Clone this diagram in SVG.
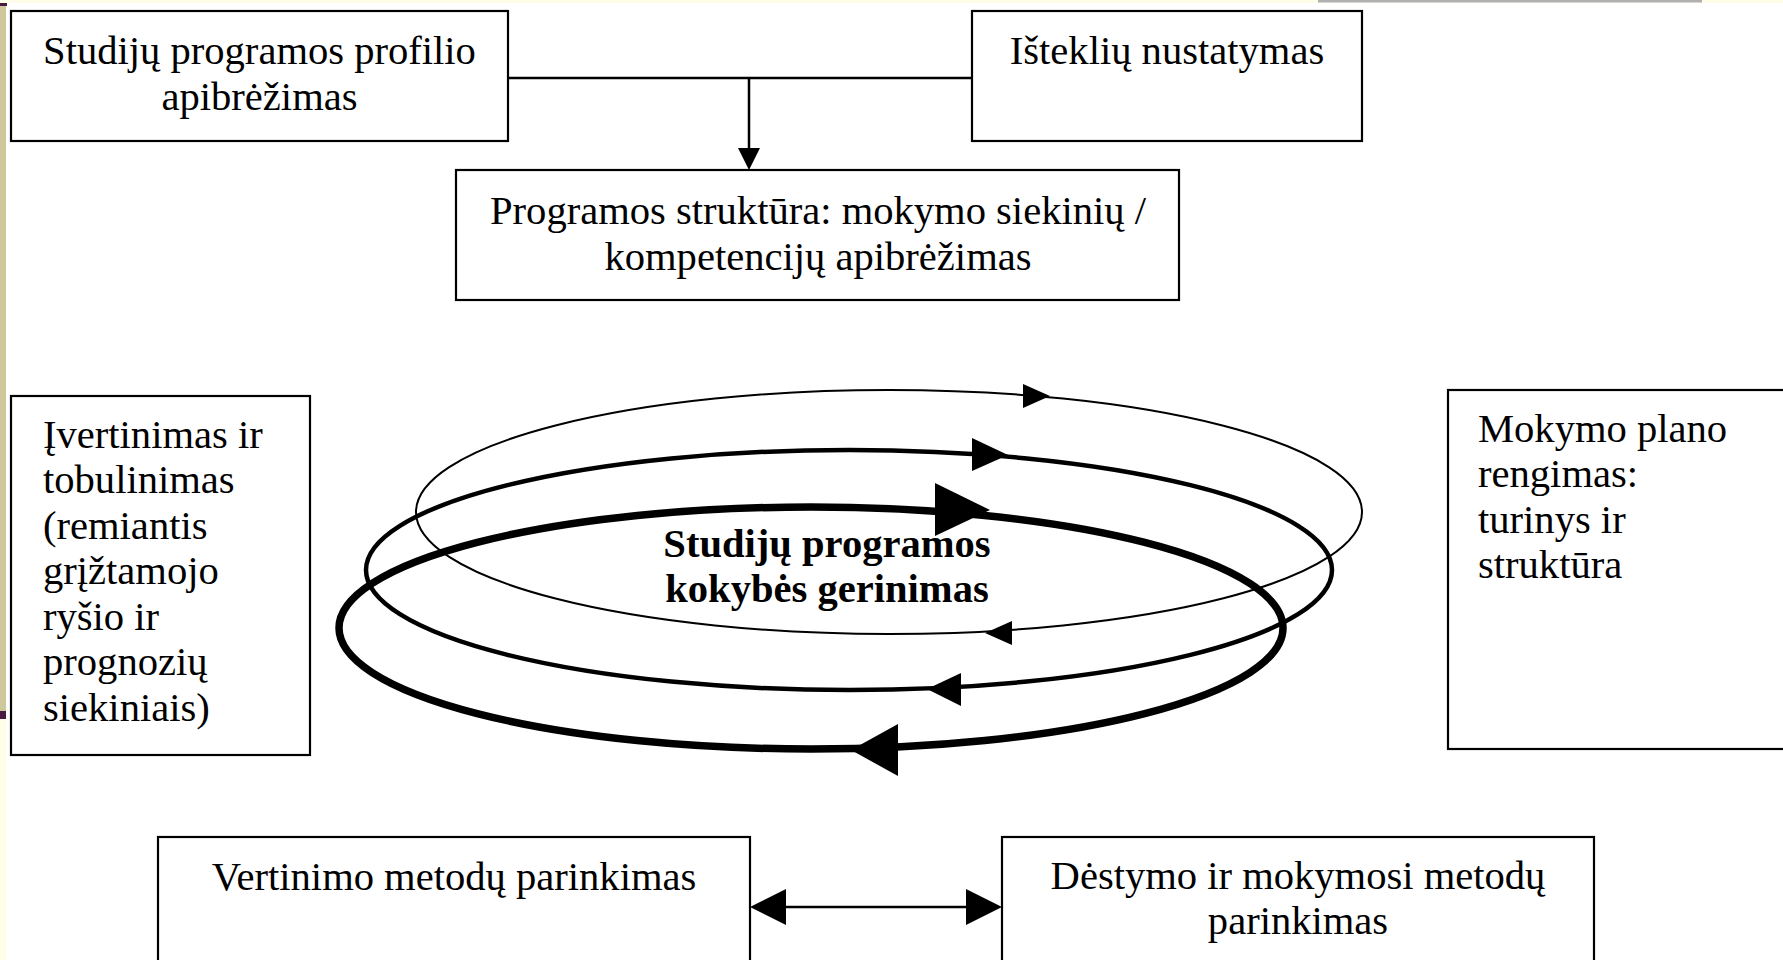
<svg xmlns="http://www.w3.org/2000/svg" width="1783" height="960" viewBox="0 0 1783 960">
<style>
.box{fill:#fff;stroke:#000;stroke-width:2.2}
.t{font-family:"Liberation Serif","Times New Roman",serif;font-size:40.6px;fill:#000}
.c{text-anchor:middle}
.b{font-weight:bold}
.ln{fill:none;stroke:#000}
.ah{fill:#000}
</style>
<rect x="0" y="0" width="1783" height="960" fill="#fff"/>
<rect x="0" y="0" width="1783" height="3" fill="#fefde8"/>
<rect x="1318" y="0" width="384" height="2.5" fill="#b0b0b0"/>
<rect x="0" y="3" width="7" height="3" fill="#4a1840"/>
<rect x="0" y="6" width="6" height="705" fill="#cdc89a"/>
<rect x="0" y="711" width="6" height="8" fill="#4a1840"/>
<rect x="0" y="719" width="6" height="241" fill="#fefde8"/>

<g id="connectors">
<path class="ln" stroke-width="2.5" d="M508,78 H972 M749,78 V150"/>
<polygon class="ah" points="738,148 760,148 749,170"/>
<path class="ln" stroke-width="2.5" d="M780,907 H972"/>
<polygon class="ah" points="750,907 786,889 786,925"/>
<polygon class="ah" points="1002,907 966,889 966,925"/>
</g>

<g id="cycle">
<ellipse class="ln" stroke-width="2" cx="889" cy="512" rx="473" ry="122"/>
<ellipse class="ln" stroke-width="4.5" cx="849" cy="570" rx="483" ry="120"/>
<ellipse class="ln" stroke-width="7.5" cx="811" cy="628" rx="472" ry="121"/>
<polygon class="ah" points="1023,384 1050,396 1023,408"/>
<polygon class="ah" points="972,438 1008,455 972,471"/>
<polygon class="ah" points="935,483 990,510 935,536"/>
<polygon class="ah" points="985,633 1012,621 1012,645"/>
<polygon class="ah" points="927,689 961,673 961,706"/>
<polygon class="ah" points="851,750 898,724 898,776"/>
<text class="t c b" x="827" y="556.5">Studijų programos</text>
<text class="t c b" x="827" y="601.5">kokybės gerinimas</text>
</g>

<g id="profilis">
<rect class="box" x="11" y="11" width="497" height="130"/>
<text class="t c" x="259.5" y="63.5">Studijų programos profilio</text>
<text class="t c" x="259.5" y="109.5">apibrėžimas</text>
</g>

<g id="istekliai">
<rect class="box" x="972" y="11" width="390" height="130"/>
<text class="t c" x="1167" y="63.5">Išteklių nustatymas</text>
</g>

<g id="struktura">
<rect class="box" x="456" y="170" width="723" height="130"/>
<text class="t c" x="818" y="223.5">Programos struktūra: mokymo siekinių /</text>
<text class="t c" x="818" y="269.5">kompetencijų apibrėžimas</text>
</g>

<g id="ivertinimas">
<rect class="box" x="11" y="396" width="299" height="359"/>
<text class="t" x="43" y="447.5">Įvertinimas ir</text>
<text class="t" x="43" y="493">tobulinimas</text>
<text class="t" x="43" y="538.5">(remiantis</text>
<text class="t" x="43" y="584">grįžtamojo</text>
<text class="t" x="43" y="629.5">ryšio ir</text>
<text class="t" x="43" y="675">prognozių</text>
<text class="t" x="43" y="720.5">siekiniais)</text>
</g>

<g id="mokymo-planas">
<rect class="box" x="1448" y="390" width="345" height="359"/>
<text class="t" x="1478" y="441.5">Mokymo plano</text>
<text class="t" x="1478" y="487">rengimas:</text>
<text class="t" x="1478" y="532.5">turinys ir</text>
<text class="t" x="1478" y="578">struktūra</text>
</g>

<g id="vertinimo-metodai">
<rect class="box" x="158" y="837" width="592" height="135"/>
<text class="t c" x="454" y="889.5">Vertinimo metodų parinkimas</text>
</g>

<g id="destymo-metodai">
<rect class="box" x="1002" y="837" width="592" height="135"/>
<text class="t c" x="1298" y="888.5">Dėstymo ir mokymosi metodų</text>
<text class="t c" x="1298" y="933.5">parinkimas</text>
</g>
</svg>
